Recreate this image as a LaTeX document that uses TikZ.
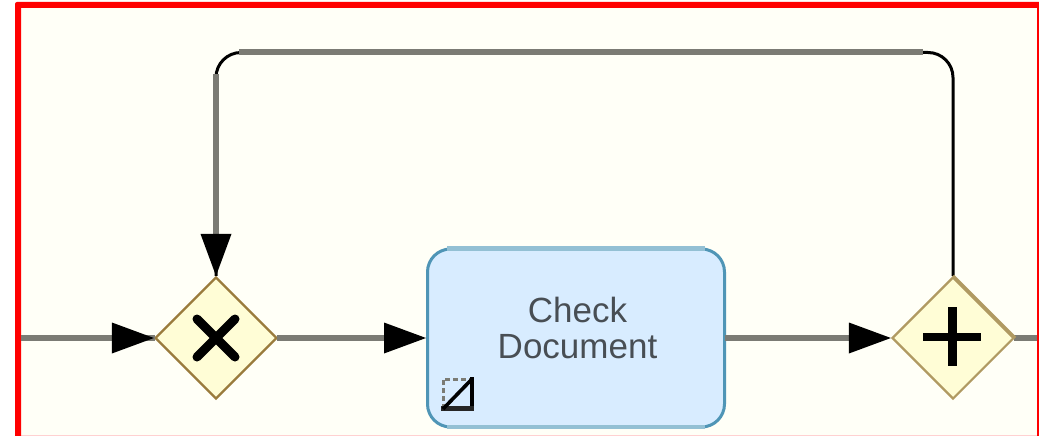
\documentclass[tikz,border=0pt]{standalone}
\usepackage{fontspec}
\setmainfont{Liberation Sans}
\usetikzlibrary{shapes.geometric,arrows.meta}
\definecolor{framered}{HTML}{FF0000}
\definecolor{canvas}{HTML}{FFFFF7}
\definecolor{flowgrey}{HTML}{7B7B74}
\definecolor{gatefill}{HTML}{FFFDD6}
\definecolor{gatebrown}{HTML}{9A7B3C}
\definecolor{gatetan}{HTML}{B09A62}
\definecolor{taskfill}{HTML}{D8ECFF}
\definecolor{taskedge}{HTML}{4F95B6}
\definecolor{taskpale}{HTML}{93C0D4}
\definecolor{tasktext}{HTML}{484E54}
\tikzset{
  flow/.style={draw=flowgrey,line width=6pt},
  flowarrow/.style={flow,shorten <=-1.5pt,-{Triangle[length=42pt,width=31pt,color=black,fill=black,line width=0pt]}},
  thinflow/.style={draw=black,line width=3pt},
  gateway/.style={diamond,aspect=1,inner sep=0pt,minimum width=122pt,minimum height=122pt,fill=gatefill,line width=2.2pt},
  taskbox/.style={rectangle,rounded corners=23pt,minimum width=297pt,minimum height=178pt,inner sep=0pt,fill=taskfill,draw=taskedge,line width=3pt},
  tasklabel/.style={text=tasktext,align=center,font=\fontsize{35pt}{36pt}\selectfont,inner sep=0pt},
  gatemark/.style={line width=9pt,draw=black},
}
\begin{document}
\begin{tikzpicture}[x=1pt,y=-1pt]
\useasboundingbox (0,0) rectangle (1039,436);
\fill[white] (0,0) rectangle (1039,436);
\fill[canvas] (15,2) rectangle (1039,435);
\fill[framered!18] (21,434.6) rectangle (1039,436);
\fill[framered] (15,436) -- (15,4) [rounded corners=2pt] -- (15,2) [sharp corners] -- (1039,2) -- (1039,8) -- (21,8) -- (21,436) -- cycle;
\fill[framered] (1037.3,2) rectangle (1039,436);

\coordinate (inL) at (21,338);
\coordinate (outR) at (1037,338);
\node[gateway,draw=gatebrown] (xor) at (216,338) {};
\node[gateway,draw=gatetan] (and) at (953,338) {};
\node[taskbox] (task) at (576,338) {};
\node[tasklabel] (lbl) at (577.5,328) {Check\\Document};

% routing points of the loop
\coordinate (rTop) at (953,52.5);
\coordinate (lTop) at (216,52.5);
\coordinate (lDrop) at (216,76);

% connectors
\draw[flow,shorten >=-1pt] (inL) -- (xor.west);
\draw[flowarrow,shorten <=0pt] (inL) -- (xor.west);
\draw[flowarrow] (xor.east) -- (task.west);
\draw[flowarrow] (task.east) -- (and.west);
\draw[flow,shorten <=-1pt] (and.east) -- (outR);
\draw[thinflow,rounded corners=25pt] (and.north) -- (rTop) -- (lTop) -- (xor.north);
\draw[flow] (923,52.5) -- (239,52.5);
\draw[flowarrow] (lDrop) -- (xor.north);

% heavier edges of the shapes
\draw[line width=3.2pt,draw=gatetan] (and.north) -- (and.east);
\draw[line width=4.5pt,draw=taskpale] (447,248.5) -- (705,248.5) (447,427) -- (705,427);

% gateway markers
\draw[gatemark,line cap=round] (197,319) -- (235,357) (197,357) -- (235,319);
\draw[line width=8.5pt,draw=black,line cap=butt] (923,337) -- (981,337) (952.5,307) -- (952.5,366);

% sub-task marker
\draw[line width=3pt,dash pattern=on 5pt off 3pt,draw=flowgrey] (443,409) -- (443,379) -- (472,379);
\draw[line width=3.2pt,draw=black] (472,377) -- (472,409);
\draw[line width=5.5pt,draw=black!85] (441,408.5) -- (474,408.5);
\draw[line width=3.6pt,draw=black] (443,409) -- (472,379);
\end{tikzpicture}
\end{document}
